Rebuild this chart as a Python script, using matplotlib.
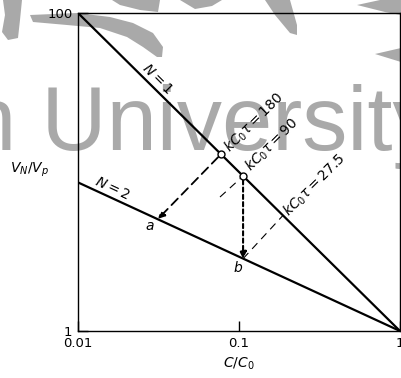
import numpy as np
import matplotlib
matplotlib.use("Agg")
import matplotlib.pyplot as plt
from matplotlib.patches import Polygon

# lines (log-log)
n1_x = [0.01, 1.0]
n1_y = [100.0, 1.0]
n2_x = [0.01, 1.0]
n2_y = [8.6, 1.0]

# open points on N = 1
p180 = (0.0773, 12.94)
p90 = (0.106, 9.43)
# points on N = 2
pt_a = (0.0314, 5.07)
pt_b = (0.106, 2.85)
# ends of the thin dashed guide lines
stub90 = (0.0762, 6.96)
end275 = (0.1875, 5.33)

xticks = [0.01, 0.1, 1]
xtick_labels = ["0.01", "0.1", "1"]
yticks = [1, 100]
ytick_labels = ["1", "100"]

W, H = 401, 378
fig = plt.figure(figsize=(W / 100, H / 100), dpi=100)
ax = fig.add_axes([78 / W, 47 / H, 322 / W, 318 / H])
ax.set_facecolor("none")

# watermark behind the chart (text + rough brush strokes at the top)
wm = "#a9a9a9"
fig.text(-34 / W, 228 / H, "n University", fontsize=65, color=wm,
         family="Liberation Sans", va="baseline", ha="left", zorder=-1)
strokes = [
    [(3, 0), (22, 0), (20, 20), (18, 38), (8, 40), (2, 32), (5, 15)],
    [(30, 15), (77, 13), (110, 17), (133, 23), (153, 33), (163, 47), (162, 57),
     (157, 57), (143, 47), (127, 37), (100, 28), (67, 25), (33, 22)],
    [(112, 0), (160, 0), (158, 12), (140, 10), (120, 5)],
    [(180, 0), (222, 0), (212, 6), (195, 9)],
    [(265, 0), (290, 0), (297, 25), (297, 35), (290, 33), (275, 15)],
    [(357, 5), (380, 0), (401, 0), (401, 15), (385, 12)],
    [(375, 54), (401, 48), (401, 62)],
]
for pts in strokes:
    fig.patches.append(Polygon([(x / W, 1 - y / H) for x, y in pts], closed=True,
                               transform=fig.transFigure, fc=wm, ec="none",
                               zorder=-2))

ax.set_xscale("log")
ax.set_yscale("log")
ax.set_xlim(0.01, 1)
ax.set_ylim(1, 100)

ax.plot(n1_x, n1_y, color="black", lw=1.6, solid_capstyle="butt")
ax.plot(n2_x, n2_y, color="black", lw=1.6, solid_capstyle="butt")

# kC0tau = 180 : dashed arrow from N=1 to a
ax.annotate("", xy=pt_a, xytext=p180,
            arrowprops=dict(arrowstyle="-|>", color="black", lw=1.3,
                            ls=(0, (5, 3)), mutation_scale=10,
                            shrinkA=3, shrinkB=0))
# kC0tau = 90 : short stub and dotted drop to b
ax.plot([stub90[0], p90[0]], [stub90[1], p90[1]], color="black", lw=0.8,
        ls=(0, (7, 5)))
ax.annotate("", xy=pt_b, xytext=p90,
            arrowprops=dict(arrowstyle="-|>", color="black", lw=1.5,
                            ls=(0, (2, 1.5)), mutation_scale=10,
                            shrinkA=3, shrinkB=0))
# kC0tau = 27.5 : thin dashed line from b up to N=1
ax.plot([pt_b[0], end275[0]], [pt_b[1], end275[1]], color="black", lw=0.8,
        ls=(0, (7, 5)))

ax.plot([p180[0], p90[0]], [p180[1], p90[1]], ls="none", marker="o",
        ms=5, mfc="white", mec="black", mew=1.0, zorder=5)

ax.text(0.031, 38.4, r"$N = 1$", rotation=-45, ha="center", va="center", fontsize=10)
ax.text(0.01626, 7.93, r"$N = 2$", rotation=-25, ha="center", va="center", fontsize=10)
ax.text(0.124, 20.6, r"$kC_0\tau = 180$", rotation=45, ha="center", va="center", fontsize=10)
ax.text(0.160, 14.8, r"$kC_0\tau = 90$", rotation=45, ha="center", va="center", fontsize=10)
ax.text(0.2965, 8.28, r"$kC_0\tau = 27.5$", rotation=45, ha="center", va="center", fontsize=10)

ax.annotate(r"$a$", xy=pt_a, xytext=(-8, -7), textcoords="offset pixels",
            ha="center", va="center", fontsize=10)
ax.annotate(r"$b$", xy=pt_b, xytext=(-5, -9), textcoords="offset pixels",
            ha="center", va="center", fontsize=10)

ax.set_xticks(xticks)
ax.set_xticklabels(xtick_labels)
ax.set_yticks(yticks)
ax.set_yticklabels(ytick_labels)
ax.minorticks_off()
ax.tick_params(direction="in", length=7, width=1, labelsize=9.5, pad=4)

for s in ax.spines.values():
    s.set_linewidth(1.0)

ax.set_xlabel(r"$C/C_0$", fontsize=10, labelpad=4)
ax.set_ylabel(r"$V_N/V_p$", fontsize=10, rotation=0, ha="center", va="center")
ax.yaxis.set_label_coords(-0.149, 0.506)

fig.savefig("out.png", dpi=100)
